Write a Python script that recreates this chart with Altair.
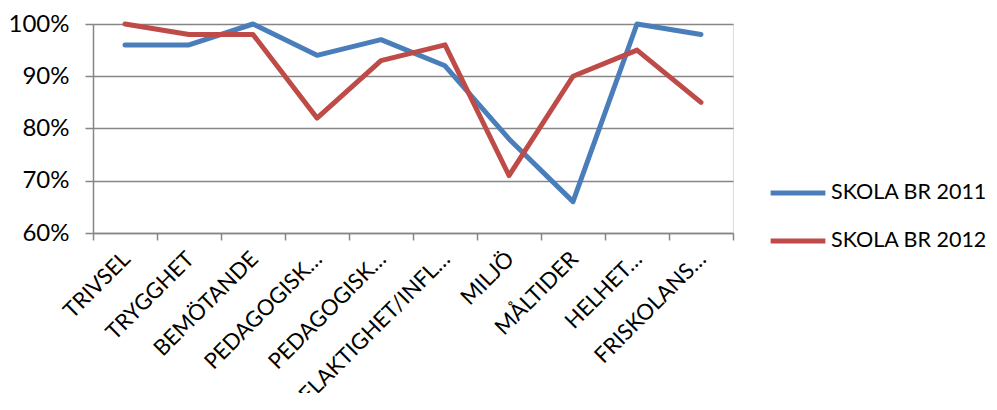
import json
import altair as alt
import pandas as pd

tick_labels = ["TRIVSEL", "TRYGGHET", "BEMÖTANDE", "PEDAGOGISK…", "PEDAGOGISK…",
               "DELAKTIGHET/INFL…", "MILJÖ", "MÅLTIDER", "HELHET…", "FRISKOLANS…"]
series = ["SKOLA BR 2011", "SKOLA BR 2012"]
values_2011 = [0.96, 0.96, 1.00, 0.94, 0.97, 0.92, 0.78, 0.66, 1.00, 0.98]
values_2012 = [1.00, 0.98, 0.98, 0.82, 0.93, 0.96, 0.71, 0.90, 0.95, 0.85]
y_ticks = [0.6, 0.7, 0.8, 0.9, 1.0]
colors = ["#4A7EBB", "#BE4B48"]

rows = []
for i in range(len(tick_labels)):
    rows.append({"pos": i, "series": series[0], "value": values_2011[i]})
    rows.append({"pos": i, "series": series[1], "value": values_2012[i]})
df = pd.DataFrame(rows)

label_expr = json.dumps(tick_labels, ensure_ascii=False) + "[datum.value]"
FONT = "Lato"
GRID = "#868686"

chart = alt.Chart(df).mark_line(
    strokeWidth=5, strokeCap="round", strokeJoin="round"
).encode(
    x=alt.X("pos:O",
            scale=alt.Scale(paddingInner=0, paddingOuter=0),
            axis=alt.Axis(title=None, labelExpr=label_expr, labelAngle=-45,
                          labelAlign="right", labelBaseline="top",
                          tickBand="extent", tickSize=7, tickColor=GRID,
                          tickWidth=1.5, domainColor=GRID, domainWidth=1.5,
                          labelFont=FONT, labelFontSize=22, labelColor="#000000",
                          labelPadding=8, labelOffset=-6, labelLimit=0,
                          labelOverlap=False, grid=False)),
    y=alt.Y("value:Q",
            scale=alt.Scale(domain=[0.6, 1.0]),
            axis=alt.Axis(title=None, values=y_ticks, format=".0%",
                          tickSize=8, tickColor=GRID, tickWidth=1.5,
                          domainColor=GRID, domainWidth=1.5,
                          gridColor=GRID, gridWidth=1.5,
                          labelFont=FONT, labelFontSize=24, labelColor="#000000",
                          labelPadding=16)),
    color=alt.Color("series:N",
                    scale=alt.Scale(domain=series, range=colors),
                    legend=alt.Legend(title=None, orient="none",
                                      legendX=675, legendY=139,
                                      symbolType="stroke", symbolSize=3000,
                                      symbolStrokeWidth=5,
                                      labelFont=FONT, labelFontSize=21.5,
                                      labelColor="#000000", rowPadding=7,
                                      labelOffset=3, labelLimit=400)),
).properties(
    width=640, height=209,
    autosize=alt.AutoSizeParams(type="none"),
    padding={"left": 85, "top": 16, "right": 256, "bottom": 160},
).configure_view(stroke=None).configure(background="white")

chart.save("out.html", embed_options={"renderer": "svg", "actions": False})
